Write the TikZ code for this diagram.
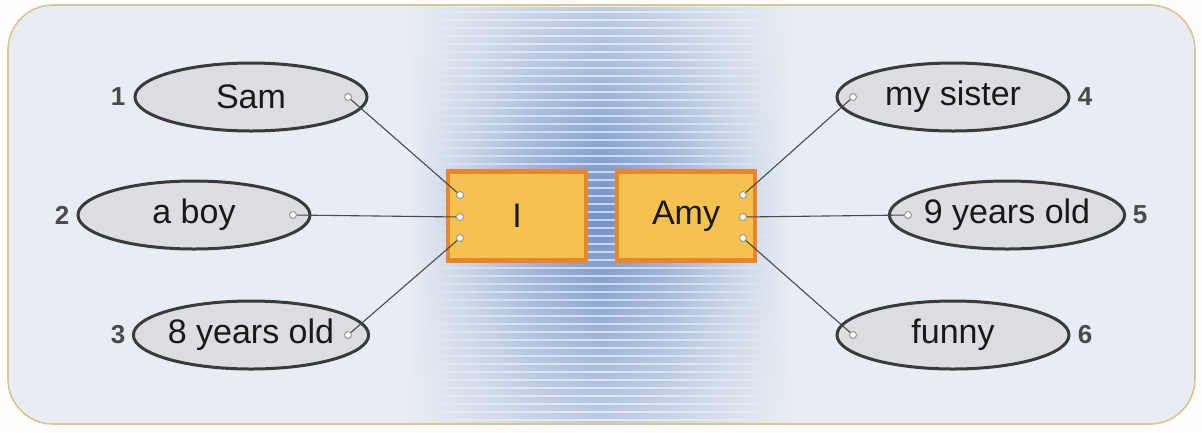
\documentclass[tikz,border=0pt]{standalone}
\usepackage{fontspec}
\setmainfont{Liberation Sans}
\usetikzlibrary{shapes.geometric,fadings}
\definecolor{bgc}{HTML}{E8EDF3}
\definecolor{bandc}{HTML}{7090C8}
\definecolor{framec}{HTML}{D9C690}
\definecolor{ellfill}{HTML}{DCDDE1}
\definecolor{ellline}{HTML}{3A3A3C}
\definecolor{boxfill}{HTML}{F5C250}
\definecolor{boxline}{HTML}{E8862C}
\definecolor{numc}{HTML}{4A4A4E}
\definecolor{linkc}{HTML}{4A4A4E}
\pgfdeclarehorizontalshading{bandshade}{100bp}{
  color(0bp)=(bgc); color(25bp)=(bgc); color(32bp)=(bgc!70!bandc); color(42bp)=(bgc!25!bandc);
  color(50bp)=(bandc); color(58bp)=(bgc!25!bandc); color(68bp)=(bgc!70!bandc); color(75bp)=(bgc); color(100bp)=(bgc)}
\tikzfading[name=vfade, top color=transparent!65, bottom color=transparent!65, middle color=transparent!0]
\pgfdeclarehorizontalshading{hfadeshade}{100bp}{
  color(0bp)=(transparent!100); color(25bp)=(transparent!100); color(35bp)=(transparent!30); color(50bp)=(transparent!0);
  color(65bp)=(transparent!30); color(75bp)=(transparent!100); color(100bp)=(transparent!100)}
\pgfdeclarefading{hfade}{\pgfuseshading{hfadeshade}}
\tikzset{
  word/.style={ellipse, draw=ellline, line width=3pt, fill=ellfill, minimum width=232pt, minimum height=68pt, inner sep=0pt, font=\fontsize{34}{38}\selectfont, text=black!90},
  num/.style={font=\fontsize{26}{30}\selectfont\bfseries, text=numc, inner sep=0pt},
  namebox/.style={rectangle, draw=boxline, line width=4.5pt, fill=boxfill, minimum width=138pt, minimum height=89pt, inner sep=0pt, font=\fontsize{34}{38}\selectfont, text=black!90},
  pin/.style={circle, draw=gray!80, line width=1pt, fill=white, minimum size=7pt, inner sep=0pt},
  link/.style={draw=linkc, line width=1.1pt}
}
\begin{document}
\begin{tikzpicture}[x=1pt,y=-1pt]
\useasboundingbox (0,0) rectangle (1202,432);
\fill[white!97!bgc] (0,0) rectangle (1202,432);
% frame background
\fill[bgc, rounded corners=45pt] (8,5) rectangle (1195,424);
% blue band
\path[shading=bandshade, path fading=vfade] (410,7) rectangle (790,422);
\foreach \y in {12,20,...,420} {
  \fill[white, opacity=0.6, path fading=hfade] (420,\y-0.9) rectangle (780,\y+0.9);
}
\draw[framec, line width=1.6pt, rounded corners=45pt] (8,5) rectangle (1195,424);
% ellipses
\node[word] (e1) at (251,97) {Sam};
\node[word] (e2) at (194,215) {a boy};
\node[word] (e3) at (251,335) {8 years old};
\node[word] (e4) at (953,97) {my sister};
\node[word] (e5) at (1007,215) {9 years old};
\node[word] (e6) at (953,335) {funny};
% numbers
\node[num] (n1) at (118,97) {1};
\node[num] (n2) at (62,215) {2};
\node[num] (n3) at (118,335) {3};
\node[num] (n4) at (1085,97) {4};
\node[num] (n5) at (1140,215) {5};
\node[num] (n6) at (1085,335) {6};
% boxes
\node[namebox] (bi) at (517,216) {I};
\node[namebox] (ba) at (686,216) {Amy};
% pins
\node[pin] (p1) at (348,97) {};
\node[pin] (p2) at (293,215) {};
\node[pin] (p3) at (348,335) {};
\node[pin] (p4) at (853,97) {};
\node[pin] (p5) at (908,215) {};
\node[pin] (p6) at (853,335) {};
\node[pin] (q1) at (460,195) {};
\node[pin] (q2) at (460,217) {};
\node[pin] (q3) at (460,238) {};
\node[pin] (r1) at (743,195) {};
\node[pin] (r2) at (743,217) {};
\node[pin] (r3) at (743,238) {};
% links
\draw[link] (p1) -- (q1);
\draw[link] (p2) -- (q2);
\draw[link] (p3) -- (q3);
\draw[link] (r1) -- (p4);
\draw[link] (r2) -- (p5);
\draw[link] (r3) -- (p6);
\end{tikzpicture}
\end{document}
